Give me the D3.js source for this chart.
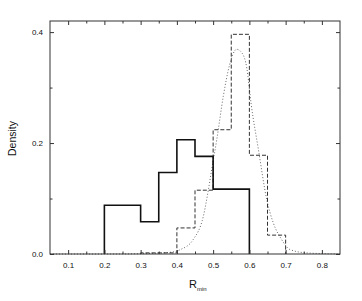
<!DOCTYPE html>
<html>
<head>
<meta charset="utf-8">
<script src="https://cdn.jsdelivr.net/npm/d3@7"></script>
<style>
  body { margin: 0; background: #fff; }
  text { font-family: "Liberation Sans", Arial, sans-serif; fill: #111; }
</style>
</head>
<body>
<svg id="chart" width="362" height="301"></svg>
<script>
// histogram bin edges and densities (solid and dashed)
const solidEdges = [0.2, 0.3, 0.35, 0.4, 0.45, 0.5, 0.6];
const solidValues = [0.088, 0.058, 0.147, 0.206, 0.176, 0.117];

const dashedEdges = [0.3, 0.4, 0.45, 0.5, 0.55, 0.6, 0.65, 0.7];
const dashedValues = [0.002, 0.047, 0.115, 0.224, 0.396, 0.178, 0.034];

// dotted fitted curve
const curveX = [0.05, 0.2, 0.3, 0.38, 0.41, 0.445, 0.473, 0.487, 0.496, 0.51, 0.528, 0.545, 0.565, 0.58, 0.593, 0.605, 0.625, 0.648, 0.666, 0.689, 0.712, 0.758, 0.85];
const curveY = [0, 0, 0.0005, 0.003, 0.008, 0.026, 0.068, 0.116, 0.152, 0.206, 0.284, 0.34, 0.369, 0.362, 0.335, 0.27, 0.188, 0.098, 0.056, 0.026, 0.008, 0.002, 0];

const xTicks = [0.1, 0.2, 0.3, 0.4, 0.5, 0.6, 0.7, 0.8];
const xMinor = [0.15, 0.25, 0.35, 0.45, 0.55, 0.65, 0.75];
const yTicks = [0, 0.2, 0.4];
const yMinor = [0.1, 0.3];

const svg = d3.select("#chart");
const mLeft = 50, mRight = 340, mTop = 21, mBottom = 254;

const x = d3.scaleLinear().domain([0.05, 0.85]).range([mLeft, mRight]);
const y = d3.scaleLinear().domain([0, 0.42]).range([mBottom, mTop]);

const fmt = d3.format(".1f");

// step path for a histogram, starting and ending on zero
function stepPoints(edges, values) {
  const pts = [[edges[0], 0]];
  values.forEach((v, i) => {
    pts.push([edges[i], v]);
    pts.push([edges[i + 1], v]);
  });
  pts.push([edges[edges.length - 1], 0]);
  return pts;
}

// dotted curve
svg.append("path")
  .datum(curveX.map((v, i) => [v, curveY[i]]))
  .attr("fill", "none")
  .attr("stroke", "#666")
  .attr("stroke-width", 1)
  .attr("stroke-dasharray", "1,2")
  .attr("d", d3.line().x(d => x(d[0])).y(d => y(d[1])).curve(d3.curveMonotoneX));

// dashed histogram
svg.append("path")
  .datum(stepPoints(dashedEdges, dashedValues))
  .attr("fill", "none")
  .attr("stroke", "#333")
  .attr("stroke-width", 1)
  .attr("stroke-dasharray", "4,2")
  .attr("d", d3.line().x(d => x(d[0])).y(d => y(d[1])));

// solid histogram
svg.append("path")
  .datum(stepPoints(solidEdges, solidValues))
  .attr("fill", "none")
  .attr("stroke", "#111")
  .attr("stroke-width", 1.6)
  .attr("d", d3.line().x(d => x(d[0])).y(d => y(d[1])));

// axes, ticks pointing inward on all sides
function styleAxis(g) {
  g.select(".domain").remove();
  g.selectAll(".tick line").attr("stroke", "#333");
  g.selectAll(".tick text").style("font-size", "8px").attr("fill", "#111");
}

svg.append("g").attr("transform", `translate(0,${mBottom})`)
  .call(d3.axisBottom(x).tickValues(xTicks).tickSizeInner(-4).tickPadding(8).tickFormat(fmt))
  .call(styleAxis);
svg.append("g").attr("transform", `translate(0,${mBottom})`)
  .call(d3.axisBottom(x).tickValues(xMinor).tickSizeInner(-2.5).tickFormat(""))
  .call(styleAxis);
svg.append("g").attr("transform", `translate(0,${mTop})`)
  .call(d3.axisTop(x).tickValues(xTicks).tickSizeInner(-4).tickFormat(""))
  .call(styleAxis);
svg.append("g").attr("transform", `translate(0,${mTop})`)
  .call(d3.axisTop(x).tickValues(xMinor).tickSizeInner(-2.5).tickFormat(""))
  .call(styleAxis);

svg.append("g").attr("transform", `translate(${mLeft},0)`)
  .call(d3.axisLeft(y).tickValues(yTicks).tickSizeInner(-4).tickPadding(7).tickFormat(fmt))
  .call(styleAxis);
svg.append("g").attr("transform", `translate(${mLeft},0)`)
  .call(d3.axisLeft(y).tickValues(yMinor).tickSizeInner(-2.5).tickFormat(""))
  .call(styleAxis);
svg.append("g").attr("transform", `translate(${mRight},0)`)
  .call(d3.axisRight(y).tickValues(yTicks).tickSizeInner(-4).tickFormat(""))
  .call(styleAxis);
svg.append("g").attr("transform", `translate(${mRight},0)`)
  .call(d3.axisRight(y).tickValues(yMinor).tickSizeInner(-2.5).tickFormat(""))
  .call(styleAxis);

// frame
svg.append("rect")
  .attr("x", mLeft).attr("y", mTop)
  .attr("width", mRight - mLeft).attr("height", mBottom - mTop)
  .attr("fill", "none").attr("stroke", "#333").attr("stroke-width", 1);

// axis titles
svg.append("text")
  .attr("transform", `translate(16,${(mTop + mBottom) / 2 + 1}) rotate(-90)`)
  .attr("text-anchor", "middle")
  .style("font-size", "10.5px")
  .text("Density");

const xt = svg.append("text")
  .attr("x", 189).attr("y", 288)
  .style("font-size", "11px");
xt.append("tspan").text("R");
xt.append("tspan").attr("dy", 3).style("font-size", "6px").text("min");
</script>
</body>
</html>
